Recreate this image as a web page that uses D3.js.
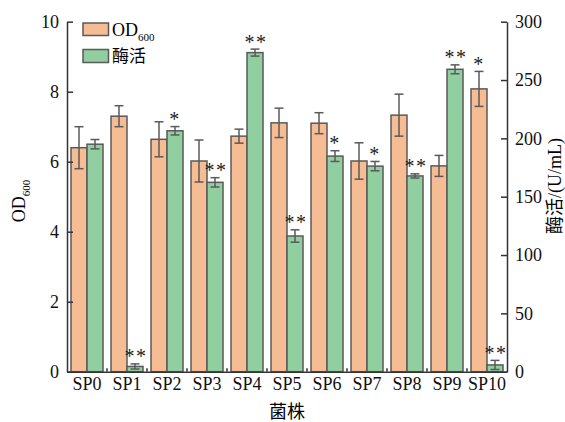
<!DOCTYPE html>
<html>
<head>
<meta charset="utf-8">
<script src="https://cdn.jsdelivr.net/npm/d3@7"></script>
<style>
  body { margin: 0; background: #fff; }
  svg text { font-family: "Liberation Serif", "Times New Roman", "Noto Sans CJK SC", serif; }
</style>
</head>
<body>
<svg id="chart"></svg>
<script>
var strains = ["SP0", "SP1", "SP2", "SP3", "SP4", "SP5", "SP6", "SP7", "SP8", "SP9", "SP10"]
var odValues = [6.4, 7.3, 6.64, 6.02, 6.73, 7.11, 7.1, 6.02, 7.33, 5.88, 8.08]
var odErrors = [0.6, 0.3, 0.5, 0.6, 0.2, 0.42, 0.3, 0.52, 0.6, 0.3, 0.5]
var enzValues = [195, 4.5, 206.5, 162.3, 273.5, 116.3, 184.8, 176.2, 167.8, 259.2, 5.8]
var enzErrors = [4, 2.2, 3.6, 4, 3, 5.3, 4.6, 4, 1.8, 3.8, 3.9]
var odMarks = ["", "", "", "", "", "", "", "", "", "", "*"]
var enzMarks = ["", "**", "*", "**", "**", "**", "*", "*", "**", "**", "**"]
var odTicks = [0, 2, 4, 6, 8, 10]
var enzTicks = [0, 50, 100, 150, 200, 250, 300]

var dimensions = {
    width: 565,
    height: 422,
    margin: { top: 21.7, bottom: 50.3, left: 67, right: 58 }
}
var colors = { od: "#F6BC93", enz: "#91CFA0", edge: "#5a5a5a", axis: "#333" }
var serif = "'Liberation Serif', 'Times New Roman', serif"

var svg = d3.select("#chart")
    .attr("width", dimensions.width)
    .attr("height", dimensions.height)

var x0 = dimensions.margin.left
var x1 = dimensions.width - dimensions.margin.right
var yBase = dimensions.height - dimensions.margin.bottom

var xScale = d3.scaleBand()
    .domain(strains)
    .range([x0, x1])
    .paddingInner(0.2)
    .paddingOuter(0.1)

var xSub = d3.scaleBand()
    .domain(["od", "enz"])
    .range([0, xScale.bandwidth()])

var yOD = d3.scaleLinear().domain([0, 10]).range([yBase, dimensions.margin.top])
var yEnz = d3.scaleLinear().domain([0, 300]).range([yBase, dimensions.margin.top])

var rows = strains.map(function (s, i) {
    return [
        { strain: s, key: "od", v: odValues[i], e: odErrors[i], mark: odMarks[i], y: yOD, fill: colors.od },
        { strain: s, key: "enz", v: enzValues[i], e: enzErrors[i], mark: enzMarks[i], y: yEnz, fill: colors.enz }
    ]
}).flat()

svg.append("g")
    .selectAll("rect")
    .data(rows)
    .enter()
    .append("rect")
    .attr("x", d => xScale(d.strain) + xSub(d.key))
    .attr("y", d => d.y(d.v))
    .attr("width", xSub.bandwidth())
    .attr("height", d => yBase - d.y(d.v))
    .attr("fill", d => d.fill)
    .attr("stroke", colors.edge)
    .attr("stroke-width", 1.5)

// error bars
var err = svg.append("g").attr("stroke", colors.edge).attr("stroke-width", 1.5)
rows.forEach(function (d) {
    var cx = xScale(d.strain) + xSub(d.key) + xSub.bandwidth() / 2
    var top = d.y(d.v + d.e), bot = d.y(Math.max(0, d.v - d.e))
    err.append("line").attr("x1", cx).attr("x2", cx).attr("y1", top).attr("y2", bot)
    err.append("line").attr("x1", cx - 4.5).attr("x2", cx + 4.5).attr("y1", top).attr("y2", top)
    err.append("line").attr("x1", cx - 4.5).attr("x2", cx + 4.5).attr("y1", bot).attr("y2", bot)
})

// significance marks
svg.append("g").selectAll("text")
    .data(rows.filter(d => d.mark))
    .enter()
    .append("text")
    .attr("x", d => xScale(d.strain) + xSub(d.key) + xSub.bandwidth() / 2 + (d.mark.length > 1 ? 1 : 0))
    .attr("y", d => d.y(d.v + d.e) - 0.5)
    .attr("text-anchor", "middle")
    .style("font-size", "20px")
    .style("letter-spacing", "1.5px")
    .attr("fill", "#222")
    .text(d => d.mark)

// axes
var leftAxis = d3.axisLeft(yOD).tickValues(odTicks).tickSize(-6).tickPadding(8)
var rightAxis = d3.axisRight(yEnz).tickValues(enzTicks).tickSize(-6).tickPadding(8)
var bottomAxis = d3.axisBottom(xScale).tickSize(0).tickPadding(6)

function styleAxis(g) {
    g.attr("font-family", null).attr("font-size", null)
    g.select(".domain").attr("stroke", colors.axis).attr("stroke-width", 1.5)
    g.selectAll(".tick line").attr("stroke", colors.axis).attr("stroke-width", 1.5)
    g.selectAll(".tick text").style("font-size", "18px").style("font-family", serif).attr("fill", "#111")
}

svg.append("g")
    .attr("transform", "translate(" + x0 + ",0)")
    .call(leftAxis.tickSizeOuter(0))
    .call(styleAxis)

svg.append("g")
    .attr("transform", "translate(" + x1 + ",0)")
    .call(rightAxis.tickSizeOuter(0))
    .call(styleAxis)

svg.append("g")
    .attr("transform", "translate(0," + yBase + ")")
    .call(bottomAxis.tickSizeOuter(0))
    .call(styleAxis)

// small ticks between strain groups
var step = xScale.step()
svg.append("g").selectAll("line")
    .data(strains.slice(1))
    .enter()
    .append("line")
    .attr("x1", d => xScale(d) - step * 0.1)
    .attr("x2", d => xScale(d) - step * 0.1)
    .attr("y1", yBase)
    .attr("y2", yBase - 3.5)
    .attr("stroke", colors.axis)
    .attr("stroke-width", 1.5)

// axis titles
var lt = svg.append("text")
    .attr("transform", "translate(25,201) rotate(-90)")
    .attr("text-anchor", "middle")
    .style("font-size", "18px")
lt.append("tspan").text("OD")
lt.append("tspan").attr("dy", 5).style("font-size", "11px").text("600")

svg.append("text")
    .attr("transform", "translate(561,186) rotate(-90)")
    .attr("text-anchor", "middle")
    .style("font-size", "18px")
    .text("酶活/(U/mL)")

svg.append("text")
    .attr("x", (x0 + x1) / 2)
    .attr("y", 418)
    .attr("text-anchor", "middle")
    .style("font-size", "18px")
    .text("菌株")

// legend
var legend = svg.append("g").attr("transform", "translate(83,23)")
legend.append("rect").attr("width", 25.5).attr("height", 12.5)
    .attr("fill", colors.od).attr("stroke", colors.edge).attr("stroke-width", 1.5)
legend.append("rect").attr("y", 26.5).attr("width", 25.5).attr("height", 13)
    .attr("fill", colors.enz).attr("stroke", colors.edge).attr("stroke-width", 1.5)
var l1 = legend.append("text").attr("x", 29).attr("y", 12.5).style("font-size", "18px")
l1.append("tspan").text("OD")
l1.append("tspan").attr("dy", 5).style("font-size", "11px").text("600")
legend.append("text").attr("x", 29).attr("y", 39).style("font-size", "17px").text("酶活")
</script>
</body>
</html>
